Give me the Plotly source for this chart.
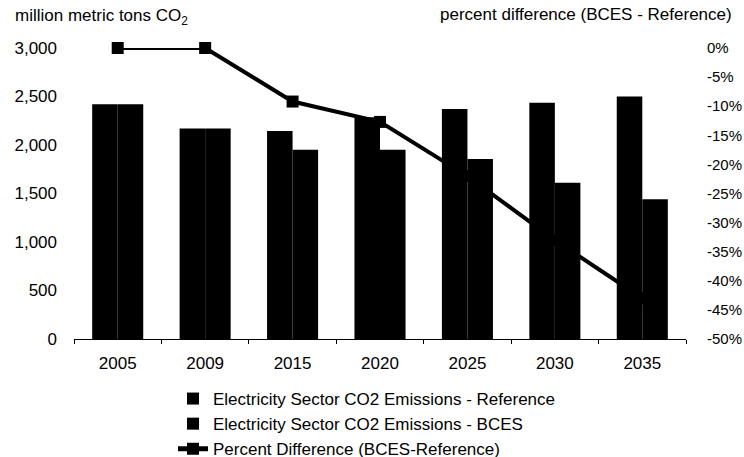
import plotly.graph_objects as go

years = ["2005", "2009", "2015", "2020", "2025", "2030", "2035"]
reference = [2420, 2170, 2145, 2285, 2370, 2435, 2500]
bces = [2420, 2170, 1950, 1950, 1855, 1610, 1440]
pct_diff = [0, 0, -9.2, -12.7, -22, -33, -43]

left_ticks = [0, 500, 1000, 1500, 2000, 2500, 3000]
left_labels = ["0", "500", "1,000", "1,500", "2,000", "2,500", "3,000"]
right_ticks = [0, -5, -10, -15, -20, -25, -30, -35, -40, -45, -50]
right_labels = ["0%", "-5%", "-10%", "-15%", "-20%", "-25%", "-30%", "-35%", "-40%", "-45%", "-50%"]

FONT = "Liberation Sans, Arial, sans-serif"

W, H = 744, 457
L, R, T, B = 74, 58, 48, 118
pw, ph = W - L - R, H - T - B


def px_x(sx):
    return (sx - L) / pw


def px_y(sy):
    return (H - B - sy) / ph


fig = go.Figure()
fig.add_trace(go.Bar(x=years, y=reference, name="Electricity Sector CO2 Emissions - Reference",
                     marker=dict(color="black", line=dict(width=0))))
fig.add_trace(go.Bar(x=years, y=bces, name="Electricity Sector CO2 Emissions - BCES",
                     marker=dict(color="black", line=dict(width=0))))
fig.add_trace(go.Scatter(x=years, y=pct_diff, name="Percent Difference (BCES-Reference)",
                         yaxis="y2", mode="lines+markers", cliponaxis=False,
                         line=dict(color="black", width=4),
                         marker=dict(symbol="square", size=12, color="black")))

fig.update_layout(
    width=W, height=H,
    margin=dict(l=L, r=R, t=T, b=B, autoexpand=False),
    paper_bgcolor="white", plot_bgcolor="white",
    font=dict(family=FONT, size=17, color="black"),
    barmode="group", bargap=0.416, bargroupgap=0,
    showlegend=True,
    legend=dict(x=px_x(173), y=px_y(381), xanchor="left", yanchor="top",
                font=dict(size=17), tracegroupgap=0, itemsizing="constant",
                bgcolor="rgba(0,0,0,0)", borderwidth=0),
    xaxis=dict(type="category", showline=True, linecolor="black", linewidth=1,
               ticks="outside", ticklen=4, tickcolor="black", tickson="boundaries",
               showgrid=False, tickfont=dict(size=17), ticklabelstandoff=9, automargin=False),
    yaxis=dict(range=[0, 3000], tickvals=left_ticks, ticktext=left_labels,
               showgrid=False, showline=False, zeroline=False, ticks="",
               tickfont=dict(size=17), ticklabelstandoff=16, automargin=False),
    yaxis2=dict(range=[-50, 0], tickvals=right_ticks, ticktext=right_labels,
                overlaying="y", side="right", showgrid=False, showline=False,
                zeroline=False, ticks="", tickfont=dict(size=15), ticklabelstandoff=20,
                automargin=False),
    annotations=[
        dict(text="million metric tons CO<sub>2</sub>", xref="paper", yref="paper",
             x=px_x(13), y=px_y(17), xanchor="left", yanchor="middle",
             showarrow=False, font=dict(size=17)),
        dict(text="percent difference (BCES - Reference)", xref="paper", yref="paper",
             x=px_x(734), y=px_y(15), xanchor="right", yanchor="middle",
             showarrow=False, font=dict(size=17)),
    ],
)

fig.write_html("out.html", config={"displayModeBar": False},
               post_script="document.body.style.margin='0';document.body.style.overflow='hidden';")
